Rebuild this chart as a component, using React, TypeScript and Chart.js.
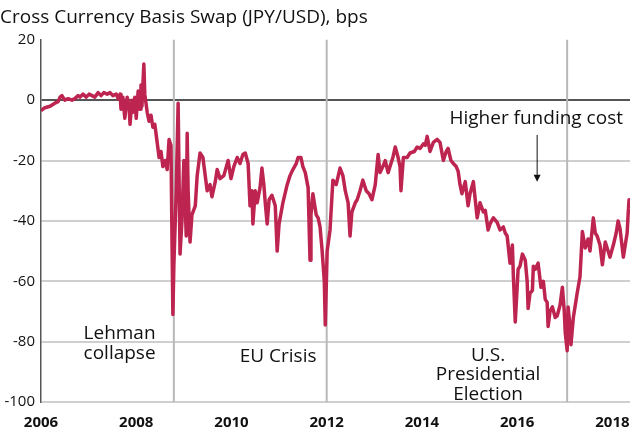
import React, { useEffect, useRef } from "react";
import { Chart, registerables } from "chart.js";

Chart.register(...registerables);

const TITLE = "Cross Currency Basis Swap (JPY/USD), bps";

const years: number[] = [
  2006.0, 2006.08, 2006.19, 2006.29, 2006.36, 2006.4, 2006.44, 2006.5, 2006.57, 2006.65, 2006.71, 2006.78, 2006.82, 2006.88, 2006.95,
  2007.01, 2007.07, 2007.13, 2007.2, 2007.26, 2007.32, 2007.39, 2007.45, 2007.51, 2007.58, 2007.62, 2007.66, 2007.68, 2007.72, 2007.76,
  2007.81, 2007.85, 2007.87, 2007.91, 2007.93, 2007.97, 2008.0, 2008.04, 2008.08, 2008.1, 2008.12, 2008.16, 2008.18, 2008.23, 2008.27,
  2008.31, 2008.35, 2008.39, 2008.44, 2008.48, 2008.52, 2008.56, 2008.61, 2008.65, 2008.69, 2008.73, 2008.75, 2008.77, 2008.79, 2008.84,
  2008.88, 2008.92, 2008.96, 2009.0, 2009.05, 2009.07, 2009.09, 2009.13, 2009.17, 2009.24, 2009.28, 2009.34, 2009.4, 2009.49, 2009.55,
  2009.59, 2009.66, 2009.7, 2009.76, 2009.84, 2009.93, 2009.99, 2010.05, 2010.12, 2010.18, 2010.24, 2010.29, 2010.35, 2010.39, 2010.43,
  2010.45, 2010.5, 2010.54, 2010.6, 2010.64, 2010.68, 2010.71, 2010.75, 2010.79, 2010.85, 2010.92, 2010.96, 2011.0, 2011.08, 2011.17,
  2011.23, 2011.29, 2011.36, 2011.4, 2011.46, 2011.5, 2011.55, 2011.61, 2011.65, 2011.67, 2011.71, 2011.78, 2011.82, 2011.86, 2011.9,
  2011.95, 2011.97, 2012.01, 2012.07, 2012.13, 2012.2, 2012.28, 2012.34, 2012.39, 2012.45, 2012.49, 2012.53, 2012.6, 2012.64, 2012.7,
  2012.76, 2012.83, 2012.89, 2012.95, 2013.02, 2013.08, 2013.12, 2013.18, 2013.23, 2013.29, 2013.33, 2013.39, 2013.44, 2013.5, 2013.54,
  2013.56, 2013.61, 2013.69, 2013.75, 2013.84, 2013.9, 2013.96, 2014.03, 2014.07, 2014.11, 2014.17, 2014.24, 2014.32, 2014.38, 2014.45,
  2014.51, 2014.55, 2014.61, 2014.66, 2014.72, 2014.76, 2014.8, 2014.84, 2014.91, 2014.97, 2015.01, 2015.08, 2015.12, 2015.16, 2015.22,
  2015.29, 2015.33, 2015.39, 2015.43, 2015.5, 2015.58, 2015.64, 2015.71, 2015.75, 2015.79, 2015.85, 2015.9, 2015.92, 2015.96, 2016.0,
  2016.02, 2016.06, 2016.11, 2016.17, 2016.21, 2016.23, 2016.27, 2016.32, 2016.34, 2016.38, 2016.44, 2016.5, 2016.55, 2016.59, 2016.63,
  2016.65, 2016.69, 2016.74, 2016.8, 2016.84, 2016.9, 2016.95, 2016.99, 2017.01, 2017.05, 2017.07, 2017.11, 2017.13, 2017.18, 2017.22,
  2017.26, 2017.32, 2017.37, 2017.43, 2017.49, 2017.53, 2017.6, 2017.64, 2017.68, 2017.74, 2017.79, 2017.85, 2017.91, 2017.95, 2018.02,
  2018.08, 2018.12, 2018.16, 2018.23, 2018.27, 2018.31, 2018.33, 2018.35, 2018.37,
];

const basis: number[] = [
  -3.5, -2.5, -2, -1, -0.5, 1, 1.5, 0, 0.5, 0, 0.5, 1.5, 1, 2, 1,
  2, 1.5, 1, 2.5, 1.5, 2.5, 2, 2.5, 1.5, 2, 0.5, 2, -3, 1, -6,
  1, -2, -8, 0, -4, 1, -6, 3, -3, 5, -2, 12, 2, -4, -7,
  -5, -9, -8, -14, -19, -17, -22, -20, -23, -13, -15, -45, -71, -55, -30,
  -1, -51, -40, -20, -45, -11, -30, -47, -38, -35, -25, -17.5, -19, -30, -28,
  -32, -27, -23, -26, -25, -20, -26, -22, -19, -21, -18, -17.5, -21, -35, -30,
  -41, -30, -34, -29, -22.5, -28, -34, -41, -33, -31.5, -35, -50, -41, -34, -28,
  -25, -23, -21, -19, -19, -22, -24, -29, -53, -38, -31, -38, -39, -42, -49,
  -60, -74.5, -50, -43, -26.5, -28, -22.5, -25, -30, -34, -45, -37, -34, -33, -30,
  -26.5, -30, -31, -33, -28, -18, -24, -22, -20, -24, -22, -19, -15.5, -19, -22,
  -30, -19, -19, -17.5, -17, -15.5, -16, -14.5, -15, -12, -17, -14, -13, -14, -20,
  -17, -16, -20, -21, -22, -23.5, -28, -31, -27, -35, -31, -27, -33, -39, -34,
  -37, -36.5, -43, -41, -39, -40.5, -43, -42, -44, -45, -54, -48, -58, -73.5, -62,
  -56, -55, -51, -53, -60, -69, -64, -63, -55, -56, -54, -62, -60, -66, -67,
  -75, -70, -68.5, -72, -71.5, -68, -62, -70, -77, -83, -68.5, -75, -81, -72, -68,
  -64, -58.5, -43.5, -49, -46, -50, -39, -44, -45, -48, -54.5, -47, -50, -52, -48,
  -44, -40, -42.5, -52, -48, -44, -38, -33, -36,
];

const xTicks: number[] = [2006, 2008, 2010, 2012, 2014, 2016, 2018];
const yTicks: number[] = [20, 0, -20, -40, -60, -80, -100];

const events: number[] = [2008.79, 2012.0, 2017.05];

type Note = { x: number; y: number; lines: string[] };
const notes: Note[] = [
  { x: 2007.65, y: -77.5, lines: ["Lehman", "collapse"] },
  { x: 2010.98, y: -85, lines: ["EU Crisis"] },
  { x: 2015.39, y: -84.5, lines: ["U.S.", "Presidential", "Election"] },
  { x: 2016.4, y: -6, lines: ["Higher funding cost"] },
];

const arrow = { x: 2016.42, from: -11.5, to: -27 };

const FONT = "'Open Sans', 'DejaVu Sans', sans-serif";
const LINE_COLOR = "#BE2450";

const overlayPlugin = {
  id: "overlay",
  beforeDatasetsDraw(chart: any) {
    const { ctx, chartArea, scales } = chart;
    ctx.save();
    ctx.strokeStyle = "#b8b8b8";
    ctx.lineWidth = 2;
    for (const e of events) {
      const px = scales.x.getPixelForValue(e);
      ctx.beginPath();
      ctx.moveTo(px, chartArea.top);
      ctx.lineTo(px, chartArea.bottom);
      ctx.stroke();
    }
    ctx.restore();
  },
  afterDraw(chart: any) {
    const { ctx, scales } = chart;
    ctx.save();
    ctx.fillStyle = "#111";
    ctx.font = `19px ${FONT}`;
    ctx.textAlign = "center";
    ctx.textBaseline = "middle";
    for (const n of notes) {
      const px = scales.x.getPixelForValue(n.x);
      const py = scales.y.getPixelForValue(n.y);
      n.lines.forEach((l, i) => ctx.fillText(l, px, py + i * 19.5));
    }
    const ax = scales.x.getPixelForValue(arrow.x);
    const y1 = scales.y.getPixelForValue(arrow.from);
    const y2 = scales.y.getPixelForValue(arrow.to);
    ctx.strokeStyle = "#111";
    ctx.lineWidth = 1;
    ctx.beginPath();
    ctx.moveTo(ax, y1);
    ctx.lineTo(ax, y2 - 4);
    ctx.stroke();
    ctx.beginPath();
    ctx.moveTo(ax - 3.5, y2 - 7);
    ctx.lineTo(ax + 3.5, y2 - 7);
    ctx.lineTo(ax, y2);
    ctx.closePath();
    ctx.fill();
    ctx.restore();
  },
};

export default function App() {
  const ref = useRef<HTMLCanvasElement | null>(null);

  useEffect(() => {
    document.body.style.margin = "0";
    if (!ref.current) return;
    const chart = new Chart(ref.current, {
      type: "line",
      data: {
        datasets: [
          {
            data: years.map((x, i) => ({ x, y: basis[i] })),
            borderColor: LINE_COLOR,
            borderWidth: 3.5,
            pointRadius: 0,
            tension: 0,
            borderJoinStyle: "round",
          },
        ],
      },
      options: {
        animation: false,
        responsive: true,
        maintainAspectRatio: false,
        layout: { padding: { top: 0, right: 3, left: 0, bottom: 0 } },
        plugins: {
          legend: { display: false },
          tooltip: { enabled: false },
          title: {
            display: true,
            text: TITLE,
            align: "start",
            color: "#111",
            font: { family: FONT, size: 19, weight: "normal" },
            padding: { top: 6, bottom: 11 },
          },
        },
        scales: {
          x: {
            type: "linear",
            min: 2006,
            max: 2018.37,
            afterBuildTicks: (s: any) => {
              s.ticks = xTicks.map((v) => ({ value: v }));
            },
            afterFit: (s: any) => {
              s.height = 30;
              s.paddingRight = 0;
              s.paddingLeft = 0;
            },
            grid: { display: false, drawTicks: false },
            border: { display: false },
            ticks: {
              padding: 12,
              color: "#111",
              font: { family: FONT, size: 15, weight: "bold" },
              callback: (v: any) => String(v),
              maxRotation: 0,
            },
          },
          y: {
            min: -100,
            max: 20,
            afterBuildTicks: (s: any) => {
              s.ticks = yTicks.map((v) => ({ value: v }));
            },
            afterFit: (s: any) => {
              s.width = 41;
              s.paddingTop = 0;
              s.paddingBottom = 0;
            },
            grid: {
              drawTicks: false,
              lineWidth: 2,
              color: (c: any) =>
                c.tick && c.tick.value === 0
                  ? "#555"
                  : c.tick && c.tick.value === 20
                  ? "rgba(0,0,0,0)"
                  : "#cfcfcf",
            },
            border: { display: true, color: "#555", width: 1.5 },
            ticks: {
              padding: 6,
              color: "#111",
              font: { family: FONT, size: 15 },
              callback: (v: any) => String(v),
            },
          },
        },
      },
      plugins: [overlayPlugin],
    } as any);
    return () => chart.destroy();
  }, []);

  return (
    <div style={{ position: "relative", width: 633, height: 432 }}>
      <canvas ref={ref} />
    </div>
  );
}
